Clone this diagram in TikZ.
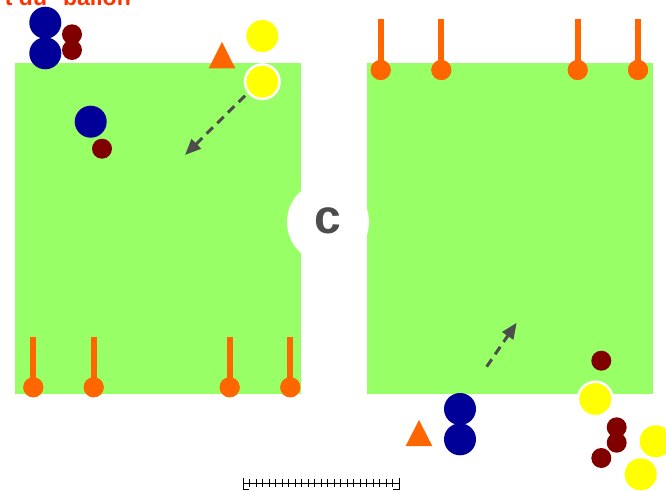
\documentclass[tikz,border=0pt]{standalone}
\usepackage{fontspec}
\setmainfont{Liberation Sans}
\usetikzlibrary{arrows.meta}
\definecolor{fieldgreen}{HTML}{99FF66}
\definecolor{pblue}{HTML}{000099}
\definecolor{pred}{HTML}{800000}
\definecolor{pyellow}{HTML}{FFFF00}
\definecolor{porange}{HTML}{FF6600}
\definecolor{pgrey}{HTML}{4D4D4D}
\definecolor{ptext}{HTML}{FF3300}
\tikzset{
  bigblue/.style={circle, fill=pblue, inner sep=0pt, minimum size=32pt},
  smallred/.style={circle, fill=pred, inner sep=0pt, minimum size=20pt},
  bigyellow/.style={circle, fill=pyellow, inner sep=0pt, minimum size=32pt},
  ringyellow/.style={circle, fill=pyellow, draw=white, line width=2.5pt, inner sep=0pt, minimum size=34.5pt},
  postball/.style={circle, fill=porange, inner sep=0pt, minimum size=20pt},
  poststick/.style={draw=porange, line width=6pt},
  cone/.style={fill=porange},
  runarrow/.style={draw=pgrey, line width=3pt, dash pattern=on 9pt off 6pt, -{Triangle[length=16pt,width=13pt]}},
  scaleline/.style={draw=black, line width=1pt},
}
\begin{document}
\begin{tikzpicture}[x=1pt,y=-1pt]
\useasboundingbox (0,0) rectangle (666,490);
\clip (0,0) rectangle (666,490);
% fields
\fill[fieldgreen] (15,63) rectangle (301,394);
\fill[fieldgreen] (367,63) rectangle (653,394);
% centre circle with C
\node[circle, fill=white, inner sep=0pt, minimum size=82pt] (cc) at (328,222) {};
\node[anchor=base, text=pgrey, font=\bfseries\fontsize{48}{48}\selectfont, inner sep=0pt] (clabel) at (328,233.3) {c};
% title (clipped)
\node[anchor=base east, text=ptext, font=\bfseries\fontsize{23}{23}\selectfont, inner sep=0pt] (title) at (131,5.7) {t du\hspace{16pt}ballon};
% goal posts top right
\foreach \x [count=\i] in {380.7,441.3,577.7,638} {
  \coordinate (tt\i) at (\x,19.3);
  \node[postball] (tb\i) at (\x,70) {};
  \draw[poststick] (tt\i) -- (tb\i.center);
  \node[postball] at (tb\i) {};
}
% goal posts bottom left
\foreach \x [count=\i] in {33.3,93.7,229.7,290.3} {
  \coordinate (bt\i) at (\x,336.7);
  \node[postball] (bb\i) at (\x,387.3) {};
  \draw[poststick] (bt\i) -- (bb\i.center);
  \node[postball] at (bb\i) {};
}
% left side players
\node[bigblue] (b1) at (45.3,22.7) {};
\node[bigblue] (b2) at (45.3,53.3) {};
\node[smallred] (r1) at (72,34.3) {};
\node[smallred] (r2) at (72,50) {};
\fill[cone] (222,42) -- (235.3,68.3) -- (208.7,68.3) -- cycle;
\node[bigyellow] (y1) at (262.3,36) {};
\node[ringyellow] (y2) at (262.3,81.7) {};
\node[bigblue] (b3) at (90.7,121.7) {};
\node[smallred] (r3) at (102,148.7) {};
\coordinate (a1s) at (245,95.7);
\coordinate (a1e) at (185,155);
\draw[runarrow] (a1s) -- (a1e);
% right side players
\coordinate (a2s) at (486.7,366.7);
\coordinate (a2e) at (516.7,322.7);
\draw[runarrow] (a2s) -- (a2e);
\node[smallred] (r4) at (601.3,360.7) {};
\node[ringyellow] (y3) at (595.3,399) {};
\node[bigblue] (b4) at (460,409) {};
\node[bigblue] (b5) at (460,439.3) {};
\fill[cone] (419,420) -- (432.3,446) -- (405.7,446) -- cycle;
\node[smallred] (r5) at (616.7,427.3) {};
\node[smallred] (r6) at (616.7,442.7) {};
\node[smallred] (r7) at (601.3,458) {};
\node[bigyellow] (y4) at (655.7,441.3) {};
\node[bigyellow] (y5) at (640.7,474.3) {};
% scale bar
\coordinate (sl) at (243,483.3);
\coordinate (sr) at (399,483.3);
\draw[scaleline] (sl) -- (sr);
\draw[scaleline] (243,478) -- (243,489) -- (249,489);
\draw[scaleline] (399,478) -- (399,489) -- (393,489);
\foreach \k in {1,...,23} {
  \draw[scaleline] (243+6.5*\k,479.3) -- (243+6.5*\k,487.3);
}
\end{tikzpicture}
\end{document}
